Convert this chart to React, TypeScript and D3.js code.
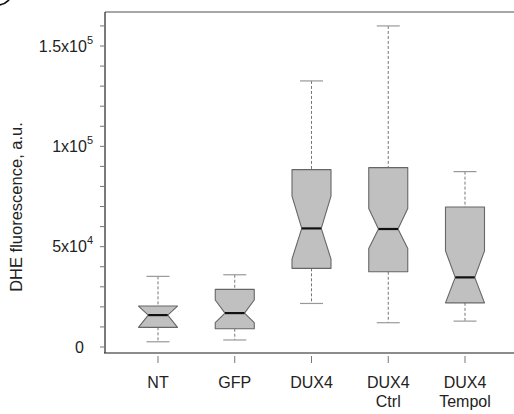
import React from "react";
import * as d3 from "d3";

const categories = ["NT", "GFP", "DUX4", "DUX4\nCtrl", "DUX4\nTempol"];
const whiskerLow = [2600, 3500, 21700, 12100, 12900];
const q1 = [9800, 9100, 39200, 37500, 22000];
const notchLow = [9800, 12100, 43800, 49100, 22000];
const median = [15900, 16900, 59100, 58800, 34700];
const notchHigh = [20400, 23400, 75200, 69000, 47900];
const q3 = [20400, 28700, 88400, 89400, 69800];
const whiskerHigh = [35200, 36000, 132600, 160000, 87400];

const majorTicks = [0, 50000, 100000, 150000];
const tickMantissa = ["0", "5x10", "1x10", "1.5x10"];
const tickExponent = ["", "4", "5", "5"];
const minorTicks = d3.range(0, 160001, 10000);

const W = 514;
const H = 414;

export default function App() {
  const y = d3.scaleLinear().domain([0, 150000]).range([347, 46]);
  const x = d3.scalePoint<string>().domain(categories).range([158, 465]);
  const halfW = 19.5;
  const capHalf = 11.5;
  const plotLeft = 105;
  const plotTop = 12;
  const plotBottom = 353;
  const font = "'Liberation Sans', Arial, sans-serif";

  return (
    <svg width={W} height={H} style={{ position: "absolute", left: 0, top: 0 }}>
      <rect width={W} height={H} fill="#fff" />
      {/* panel label circle (cropped) */}
      <circle cx={-2} cy={-9} r={14} fill="none" stroke="#111" strokeWidth={1.6} />
      {/* frame */}
      <line x1={plotLeft} x2={W} y1={plotTop} y2={plotTop} stroke="#8a8a8a" strokeWidth={1.4} />
      <line x1={plotLeft - 1} x2={W} y1={plotBottom} y2={plotBottom} stroke="#666" strokeWidth={1.4} />
      <line x1={plotLeft} x2={plotLeft} y1={plotTop} y2={plotBottom} stroke="#333" strokeWidth={1.3} />
      {/* y ticks */}
      {minorTicks.map((t) => (
        <line key={t} x1={plotLeft - 5} x2={plotLeft} y1={y(t)} y2={y(t)} stroke="#777" strokeWidth={1} />
      ))}
      {majorTicks.map((t, i) => (
        <text
          key={t}
          x={i === 0 ? 84 : 93}
          y={y(t)}
          dy="0.36em"
          textAnchor="end"
          fontFamily={font}
          fontSize={16}
          fill="#222"
        >
          {tickMantissa[i]}
          {tickExponent[i] && (
            <tspan fontSize={11} dy="-0.75em">
              {tickExponent[i]}
            </tspan>
          )}
        </text>
      ))}
      <text
        transform={`translate(22,207) rotate(-90)`}
        textAnchor="middle"
        fontFamily={font}
        fontSize={16.5}
        fill="#222"
      >
        DHE fluorescence, a.u.
      </text>
      {/* x ticks and labels */}
      {categories.map((c) => {
        const cx = x(c)!;
        const lines = c.split("\n");
        return (
          <g key={c}>
            <line x1={cx} x2={cx} y1={356} y2={363} stroke="#777" strokeWidth={1} />
            {lines.map((l, j) => (
              <text
                key={j}
                x={cx}
                y={388 + j * 19}
                textAnchor="middle"
                fontFamily={font}
                fontSize={16}
                fill="#222"
              >
                {l}
              </text>
            ))}
          </g>
        );
      })}
      {/* boxes */}
      {categories.map((c, i) => {
        const cx = x(c)!;
        const nl = Math.max(notchLow[i], q1[i]);
        const nh = Math.min(notchHigh[i], q3[i]);
        const pts: [number, number][] = [
          [cx - halfW, y(q1[i])],
          [cx + halfW, y(q1[i])],
          [cx + halfW, y(nl)],
          [cx + halfW / 2, y(median[i])],
          [cx + halfW, y(nh)],
          [cx + halfW, y(q3[i])],
          [cx - halfW, y(q3[i])],
          [cx - halfW, y(nh)],
          [cx - halfW / 2, y(median[i])],
          [cx - halfW, y(nl)],
        ];
        const path = d3.line()(pts) + "Z";
        return (
          <g key={c}>
            <line x1={cx} x2={cx} y1={y(whiskerHigh[i])} y2={y(q3[i])} stroke="#777" strokeWidth={1} strokeDasharray="3,2" />
            <line x1={cx} x2={cx} y1={y(q1[i])} y2={y(whiskerLow[i])} stroke="#777" strokeWidth={1} strokeDasharray="3,2" />
            <line x1={cx - capHalf} x2={cx + capHalf} y1={y(whiskerHigh[i])} y2={y(whiskerHigh[i])} stroke="#999" strokeWidth={1.2} />
            <line x1={cx - capHalf} x2={cx + capHalf} y1={y(whiskerLow[i])} y2={y(whiskerLow[i])} stroke="#999" strokeWidth={1.2} />
            <path d={path} fill="#c0c0c0" stroke="#666" strokeWidth={1.1} strokeLinejoin="round" />
            <line x1={cx - halfW / 2} x2={cx + halfW / 2} y1={y(median[i])} y2={y(median[i])} stroke="#111" strokeWidth={2.2} />
          </g>
        );
      })}
    </svg>
  );
}
